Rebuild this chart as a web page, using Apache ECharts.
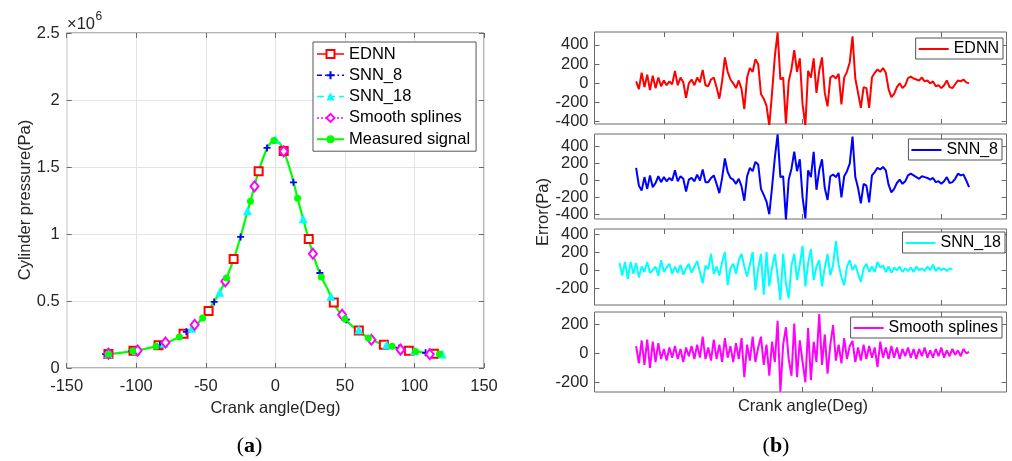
<!DOCTYPE html>
<html>
<head>
<meta charset="utf-8">
<script src="https://cdn.jsdelivr.net/npm/echarts@6/dist/echarts.min.js"></script>
<style>
  html, body { margin: 0; background: #fff; }
  #chart { width: 1012px; height: 461px; }
</style>
</head>
<body>
<div id="chart"></div>
<script>
// ---- (a) cylinder pressure, values in 1e6 Pa ----
const ednnAngle = [-120, -102, -84, -66, -48, -30, -12, 6, 24, 42, 60, 78, 96, 114];
const ednnP = [0.105, 0.128, 0.169, 0.256, 0.425, 0.813, 1.468, 1.62, 0.963, 0.488, 0.279, 0.174, 0.129, 0.107];
const snn8Angle = [-122, -103, -83, -64, -44, -25, -6, 13, 32, 51, 70, 89, 108];
const snn8P = [0.104, 0.127, 0.172, 0.27, 0.493, 0.978, 1.642, 1.386, 0.709, 0.361, 0.21, 0.15, 0.113];
const snn18Angle = [-120, -100, -80, -60, -40, -20, 0, 20, 40, 60, 80, 100, 120];
const snn18P = [0.105, 0.13, 0.184, 0.296, 0.565, 1.174, 1.705, 1.114, 0.535, 0.286, 0.174, 0.129, 0.104];
const splineAngle = [-120, -99, -79, -58, -36, -15, 6, 27, 48, 69, 90, 111];
const splineP = [0.107, 0.13, 0.19, 0.323, 0.647, 1.356, 1.617, 0.853, 0.398, 0.211, 0.137, 0.103];
const measuredAngle = [-120, -110, -102.5, -95, -85.8, -78, -69, -60, -52.3, -45, -40, -35.1, -30, -25, -20,
  -17.9, -12, -6, -3, -1, 3, 6, 10, 13, 16, 20, 24, 28, 33, 38, 42, 50, 58, 66.9, 75, 83.9, 92, 100.8, 110, 118];
const measuredP = [0.105, 0.115, 0.127, 0.14, 0.162, 0.19, 0.231, 0.29, 0.373, 0.48, 0.565, 0.672, 0.81, 0.98, 1.17,
  1.244, 1.47, 1.64, 1.685, 1.697, 1.68, 1.62, 1.5, 1.39, 1.266, 1.11, 0.96, 0.82, 0.679, 0.58, 0.48, 0.366, 0.29, 0.224, 0.185,
  0.162, 0.14, 0.124, 0.112, 0.104];
const measuredMarks = [-120, -102.5, -85.8, -69, -52.3, -35.1, -17.9, -1, 16, 33, 50, 66.9, 83.9, 100.8, 118];

// ---- (b) errors (Pa), sampled every 2 deg ----
const errAngle = [-132, -130, -128, -126, -124, -122, -120, -118, -116, -114, -112, -110, -108, -106, -104, -102,
  -100, -98, -96, -94, -92, -90, -88, -86, -84, -82, -80, -78, -76, -74, -72, -70, -68, -66, -64, -62, -60, -58,
  -56, -54, -52, -50, -48, -46, -44, -42, -40, -38, -36, -34, -32, -30, -28, -26, -24, -22, -20, -18, -16, -14,
  -12, -10, -8, -6, -4, -2, 0, 2, 4, 6, 8, 10, 12, 14, 16, 18, 20, 22, 24, 26, 28, 30, 32, 34, 36, 38, 40, 42,
  44, 46, 48, 50, 52, 54, 56, 58, 60, 62, 64, 66, 68, 70, 72, 74, 76, 78, 80, 82, 84, 86, 88, 90, 92, 94, 96,
  98, 100, 102, 104, 106, 108, 110, 112, 114, 116, 118, 120];
// EDNN, SNN_8, Smooth splines start at -120; SNN_18 starts at -132
const ednnErr = [20, -60, 110, -40, 90, -70, 80, -50, 60, -30,
  30, -20, 20, -10, 130, -20, 60, 10, -150, 0,
  40, -20, 60, 10, 140, -20, -30, 40, 60, -40,
  -160, 20, 270, 120, 40, 0, -50, 30, -60, -270,
  60, 160, 120, 250, 200, -110, -160, -235, -440, -100,
  280, 530, 40, 60, -420, 20, 150, 345, 120, 260,
  -220, -440, 130, 60, 260, -100, 130, 270, -100, -240,
  60, 80, 50, 100, -220, 60, 120, 220, 490, 50,
  -100, -255, -40, -50, -255, 60, 110, 145, 120, 160,
  110, -60, -145, -110, -40, 0, -50, -20, 55, 70,
  50, 40, 30, 60, 20, 30, 0, 20, -30, -20,
  -50, -20, 30, -40, -50, -10, 30, 20, 40, 10,
  0];
const snn8Err = [150, -60, -120, 40, -100, 60, -80, -30, 50, -20,
  40, -10, 30, 0, 120, -10, 50, 20, -130, 10,
  30, -10, 70, 0, 130, -20, -20, 30, 60, -40,
  -150, 30, 260, 100, 30, 10, -40, 20, -70, -240,
  50, 150, 110, 220, 190, -100, -170, -250, -400, -80,
  270, 545, 40, 50, -460, 10, 140, 340, 110, 250,
  -200, -450, 120, 40, 340, -110, 120, 250, -90, -230,
  50, 70, 40, 90, -200, 50, 110, 200, 520, 40,
  -90, -270, -40, -60, -260, 60, 100, 150, 130, 160,
  120, -50, -140, -100, -30, 10, -40, -10, 60, 80,
  60, 40, 20, 50, 40, 30, 10, 30, -20, -10,
  -40, -10, 40, -30, -20, 20, 80, 60, 70, 0,
  -80];
const snn18Err = [80, -60, 90, -100, 90, -40, 80, -80, 40, -20,
  90, -30, 0, 40, -60, 110, -20, 30, 70, -40,
  40, -30, 60, -50, 20, 70, -30, 40, 100, -20,
  -145, 50, 10, 180, -40, 40, -60, 90, 200, -165,
  20, 70, -40, 110, 180, 40, -70, 60, 200, -220,
  20, 180, -270, 200, -180, 30, 180, -60, -330, 180,
  -150, -310, 50, 180, -110, 60, 270, -180, 80, 235,
  -110, 40, 110, -180, 30, 180, -55, 60, 320, 60,
  -75, -165, 40, 110, 0, 60, -40, -130, 20, 70,
  -20, 40, -20, 90, 30, 50, -20, 40, -30, 30,
  0, 40, -20, 20, -10, 30, -20, 40, 0, 20,
  -10, 40, 0, 60, -10, 30, 0, 20, -10, 20,
  10];
const splineErr = [50, -70, 90, -80, 95, -100, 80, -60, 70, -40,
  30, -50, 40, -30, 50, -40, 30, -60, 40, -20,
  50, -40, 60, -30, 115, -40, 40, -50, 95, -40,
  60, -60, 105, -30, 50, -60, 70, -40, 105, -165,
  60, -50, 115, -60, 40, 115, -80, 60, -155, 80,
  -60, 225, -265, 60, 180, -40, -155, 205, -165, 90,
  -60, -200, 175, -185, 80, -60, 270, -80, 130, -140,
  60, 195, -50, 60, -70, 105, -40, 50, 85, -60,
  40, -50, 60, -40, 50, -30, 40, -95, 80, -30,
  40, -40, 50, -30, 40, -40, 30, -20, 40, -30,
  30, -40, 30, -20, 40, -30, 20, -30, 30, -20,
  40, -30, 20, -20, 30, -10, 20, -20, 30, 0,
  10];

const TXT = '#262626';
const AX = '#6a6a6a';
const FONT = '"Liberation Sans", Arial, Helvetica, sans-serif';
const SERIF = '"Liberation Serif", "DejaVu Serif", serif';

const pairs = (xs, ys) => ys.map((y, i) => [xs[i], y]);

// right-hand panels: pixel boxes and y ranges
const panelTop = [32, 134, 229, 312];
const panelBottom = [124, 219, 305, 392];
const panelRange = [[-424, 535], [-456, 550], [-385, 455], [-267, 285]];
const panelTicks = [[-400, -200, 0, 200, 400], [-400, -200, 0, 200, 400], [-200, 0, 200, 400], [-200, 0, 200]];
const panelLegendTop = [38, 139, 232, 317];
const panelLegendRight = [9, 10, 7, 10];
const errSeries = [
  { name: 'EDNN', color: '#ff0000', data: pairs(errAngle.slice(6), ednnErr) },
  { name: 'SNN_8', color: '#0000ff', data: pairs(errAngle.slice(6), snn8Err) },
  { name: 'SNN_18', color: '#00ffff', data: pairs(errAngle, snn18Err) },
  { name: 'Smooth splines', color: '#ff00ff', data: pairs(errAngle.slice(6), splineErr) }
];

const tick = { inside: true, length: 5, lineStyle: { color: AX } };
const label = { color: TXT, fontSize: 16.5, fontFamily: FONT };
const noLine = { show: false, onZero: false };

const grid = [{ left: 66.7, right: 528, top: 33, bottom: 93 }];
const xAxis = [
  { type: 'value', gridIndex: 0, min: -150, max: 150, interval: 50, position: 'bottom',
    axisLine: noLine, axisTick: tick, axisLabel: Object.assign({ margin: 10 }, label),
    splitLine: { show: true, lineStyle: { color: '#e4e4e4' } } },
  { type: 'value', gridIndex: 0, min: -150, max: 150, interval: 50, position: 'top',
    axisLine: noLine, axisTick: tick, axisLabel: { show: false }, splitLine: { show: false } }
];
const yAxis = [
  { type: 'value', gridIndex: 0, min: 0, max: 2.5, interval: 0.5, position: 'left',
    axisLine: noLine, axisTick: tick, axisLabel: Object.assign({ margin: 7 }, label),
    splitLine: { show: true, lineStyle: { color: '#e4e4e4' } } },
  { type: 'value', gridIndex: 0, min: 0, max: 2.5, interval: 0.5, position: 'right',
    axisLine: noLine, axisTick: tick, axisLabel: { show: false }, splitLine: { show: false } }
];

const measuredData = measuredAngle.map((a, i) => ({
  value: [a, measuredP[i]],
  symbol: measuredMarks.includes(a) ? 'circle' : 'none'
}));

// the model curves sit under the measured one: only their markers show in the plot
const hidden = { opacity: 0 };
const series = [
  { name: 'EDNN', type: 'line', xAxisIndex: 0, yAxisIndex: 0, data: pairs(ednnAngle, ednnP),
    symbol: 'emptyRect', symbolSize: 8, lineStyle: hidden,
    itemStyle: { color: '#ff0000', borderColor: '#ff0000', borderWidth: 1.8 } },
  { name: 'SNN_8', type: 'line', xAxisIndex: 0, yAxisIndex: 0, data: pairs(snn8Angle, snn8P),
    symbol: 'path://M0,4L8,4M4,0L4,8', symbolSize: 7, lineStyle: hidden,
    itemStyle: { color: '#0000ff', borderColor: '#0000ff', borderWidth: 1.8 } },
  { name: 'SNN_18', type: 'line', xAxisIndex: 0, yAxisIndex: 0, data: pairs(snn18Angle, snn18P),
    symbol: 'triangle', symbolSize: 9, lineStyle: hidden,
    itemStyle: { color: '#00ffff' } },
  { name: 'Smooth splines', type: 'line', xAxisIndex: 0, yAxisIndex: 0, data: pairs(splineAngle, splineP),
    symbol: 'emptyDiamond', symbolSize: [8, 10], lineStyle: hidden,
    itemStyle: { color: '#ff00ff', borderColor: '#ff00ff', borderWidth: 1.8 } },
  { name: 'Measured signal', type: 'line', xAxisIndex: 0, yAxisIndex: 0, data: measuredData,
    smooth: 0.35, symbol: 'circle', symbolSize: 7,
    lineStyle: { color: '#00ff00', width: 2.2 },
    itemStyle: { color: '#00ff00' } }
];

const legend = [{
  data: [
    { name: 'EDNN', lineStyle: { color: '#ff0000', width: 1.5, opacity: 1 } },
    { name: 'SNN_8', lineStyle: { color: '#0000ff', width: 1.5, opacity: 1, type: [5, 3, 1.5, 3] } },
    { name: 'SNN_18', lineStyle: { color: '#00ffff', width: 1.5, opacity: 1, type: [7, 4] } },
    { name: 'Smooth splines', lineStyle: { color: '#ff00ff', width: 1.5, opacity: 1, type: [2, 2] } },
    { name: 'Measured signal', lineStyle: { color: '#00ff00', width: 2, opacity: 1 } }
  ],
  orient: 'vertical', left: 313, top: 42,
  itemWidth: 27, itemHeight: 10, itemGap: 4.3,
  padding: [3.5, 6, 3.5, 3],
  backgroundColor: '#fff', borderColor: '#555', borderWidth: 1,
  textStyle: { color: '#000', fontSize: 16.5, fontFamily: FONT },
  selectedMode: false
}];

errSeries.forEach((s, k) => {
  const g = k + 1;
  const [lo, hi] = panelRange[k];
  grid.push({ left: 594.5, right: 5.5, top: panelTop[k], height: panelBottom[k] - panelTop[k] });
  xAxis.push(
    { type: 'value', gridIndex: g, min: -150, max: 147, interval: 50, position: 'bottom',
      axisLine: noLine, axisTick: tick, axisLabel: { show: false }, splitLine: { show: false } },
    { type: 'value', gridIndex: g, min: -150, max: 147, interval: 50, position: 'top',
      axisLine: noLine, axisTick: tick, axisLabel: { show: false }, splitLine: { show: false } }
  );
  yAxis.push(
    { type: 'value', gridIndex: g, min: lo, max: hi, position: 'left',
      axisLine: noLine,
      axisTick: Object.assign({ customValues: panelTicks[k] }, tick),
      axisLabel: Object.assign({ margin: 6, customValues: panelTicks[k] }, label),
      splitLine: { show: false } },
    { type: 'value', gridIndex: g, min: lo, max: hi, position: 'right',
      axisLine: noLine,
      axisTick: Object.assign({ customValues: panelTicks[k] }, tick),
      axisLabel: { show: false }, splitLine: { show: false } }
  );
  series.push({
    name: s.name + ' error', type: 'line', xAxisIndex: 2 * g, yAxisIndex: 2 * g,
    data: s.data, symbol: 'none', clip: true,
    lineStyle: { color: s.color, width: 2 }, itemStyle: { color: s.color }
  });
  legend.push({
    data: [s.name + ' error'], formatter: n => n.replace(' error', ''),
    right: panelLegendRight[k], top: panelLegendTop[k],
    icon: 'rect', itemWidth: 30, itemHeight: 2,
    padding: [3, 4, 2, 3],
    backgroundColor: '#fff', borderColor: '#555', borderWidth: 1,
    textStyle: { color: '#000', fontSize: 16, fontFamily: FONT, lineHeight: 16 },
    selectedMode: false
  });
});

grid.forEach(g => Object.assign(g, { show: true, borderColor: AX, borderWidth: 1, backgroundColor: '#fff' }));

const txt = (x, y, text, opts) => ({
  type: 'text', x, y, silent: true, z: 100,
  rotation: (opts && opts.rotation) || 0,
  style: Object.assign({ text, fill: TXT, font: '16.5px ' + FONT, align: 'center', verticalAlign: 'middle' },
    opts && opts.style)
});

const chart = echarts.init(document.getElementById('chart'), null, { renderer: 'canvas' });
chart.setOption({
  animation: false,
  backgroundColor: '#fff',
  grid, xAxis, yAxis, series, legend,
  graphic: [
    txt(275.5, 408, 'Crank angle(Deg)'),
    txt(25, 200, 'Cylinder pressure(Pa)', { rotation: Math.PI / 2 }),
    txt(67, 24.5, '\u00d710', { style: { font: '16.5px ' + FONT, align: 'left' } }),
    txt(95.5, 17, '6', { style: { font: '12px ' + FONT, align: 'left' } }),
    txt(803, 406, 'Crank angle(Deg)'),
    txt(543, 212, 'Error(Pa)', { rotation: Math.PI / 2 }),
    txt(249.5, 446, '{p|(}{b|a}{p|)}', { style: { fill: '#000', rich: {
      p: { font: '22px ' + SERIF, fill: '#000' }, b: { font: 'bold 22px ' + SERIF, fill: '#000' } } } }),
    txt(776, 446, '{p|(}{b|b}{p|)}', { style: { fill: '#000', rich: {
      p: { font: '22px ' + SERIF, fill: '#000' }, b: { font: 'bold 22px ' + SERIF, fill: '#000' } } } })
  ]
});
</script>
</body>
</html>
